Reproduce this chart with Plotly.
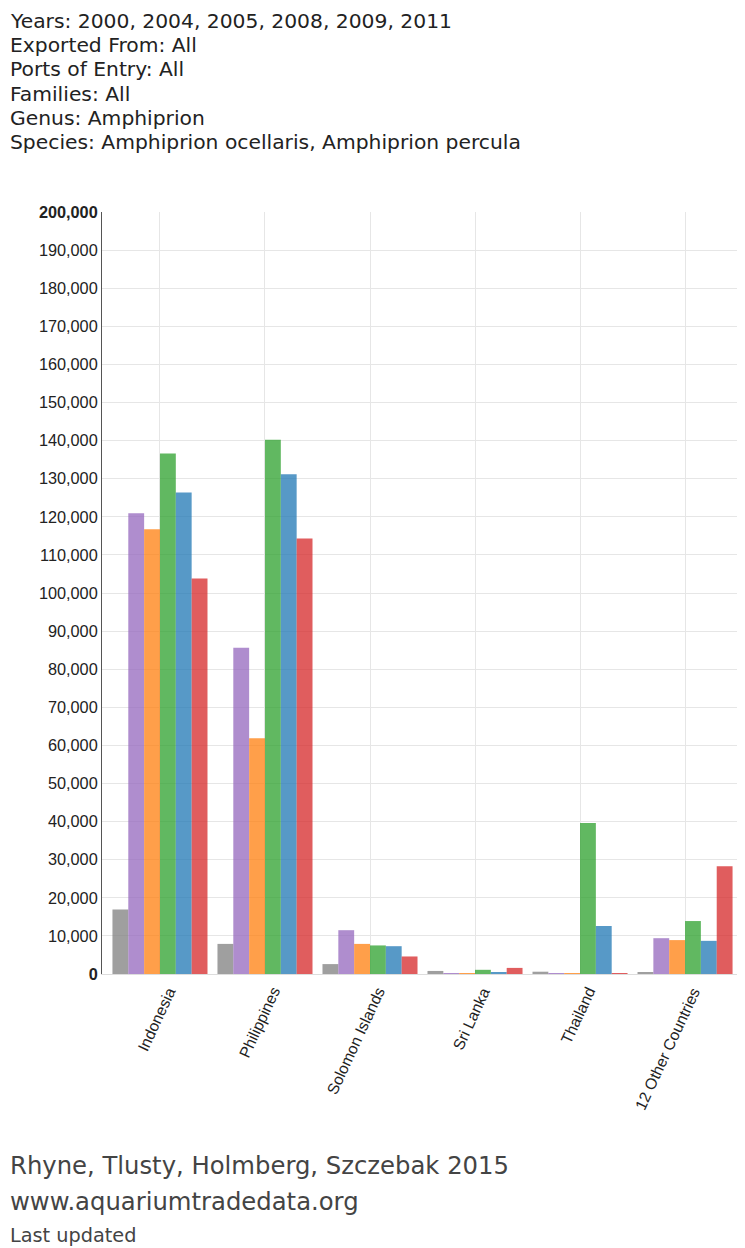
import plotly.graph_objects as go

countries = ["Indonesia", "Philippines", "Solomon Islands", "Sri Lanka", "Thailand", "12 Other Countries"]
years = ["2000", "2004", "2005", "2008", "2009", "2011"]
values = {
    "2000": [16900, 7900, 2600, 800, 600, 400],
    "2004": [120900, 85600, 11500, 200, 200, 9400],
    "2005": [116700, 61900, 7900, 200, 200, 8900],
    "2008": [136600, 140200, 7500, 1100, 39600, 13900],
    "2009": [126400, 131200, 7300, 500, 12600, 8700],
    "2011": [103800, 114300, 4600, 1600, 200, 28300],
}
colors = ["#7f7f7f", "#9467bd", "#ff7f0e", "#2ca02c", "#1f77b4", "#d62728"]
ytick_vals = list(range(0, 200001, 10000))
ytick_text = ["<b>0</b>"] + [f"{v:,}" for v in ytick_vals[1:-1]] + ["<b>200,000</b>"]

header_lines = [
    "Years: 2000, 2004, 2005, 2008, 2009, 2011",
    "Exported From: All",
    "Ports of Entry: All",
    "Families: All",
    "Genus: Amphiprion",
    "Species: Amphiprion ocellaris, Amphiprion percula",
]
footer_lines = [
    ("Rhyne, Tlusty, Holmberg, Szczebak 2015", 24.3, 1165),
    ("www.aquariumtradedata.org", 24.3, 1201),
    ("Last updated", 19.3, 1235),
]

# the page body adds an 8px offset; all page coordinates below are compensated
OFF = 8
PAGE_W, PAGE_H = 745, 1248
W, H = PAGE_W - OFF, PAGE_H - OFF
L, T, B = 102 - OFF, 212 - OFF, 974 - OFF

fig = go.Figure()
for yr, col in zip(years, colors):
    fig.add_trace(go.Bar(
        x=countries, y=values[yr], name=yr,
        marker=dict(color=col, opacity=0.75, line=dict(width=0)),
    ))

def py(ypage):
    return (B - (ypage - OFF)) / (B - T)

def px(xpage):
    return ((xpage - OFF) - L) / (W - L)

annotations = []
header_top, header_bottom = 21, 142
step = (header_bottom - header_top) / (len(header_lines) - 1)
for i, line in enumerate(header_lines):
    annotations.append(dict(
        text=line, x=px(8), y=py(header_top + i * step), xref="paper", yref="paper",
        xanchor="left", yanchor="middle", showarrow=False,
        font=dict(family="DejaVu Sans", size=20.3, color="#222222"),
    ))
for text, size, ypos in footer_lines:
    annotations.append(dict(
        text=text, x=px(8), y=py(ypos), xref="paper", yref="paper",
        xanchor="left", yanchor="middle", showarrow=False,
        font=dict(family="DejaVu Sans", size=size, color="#444444"),
    ))
# rotated category labels
for c in countries:
    annotations.append(dict(
        text=c, x=c, xref="x", y=0, yref="paper",
        xanchor="right", yanchor="top", xshift=21, yshift=-8,
        textangle=-65, showarrow=False,
        font=dict(family="Liberation Sans", size=15.7, color="#222222"),
    ))

fig.update_layout(
    width=W, height=H,
    margin=dict(l=L, r=0, t=T, b=H - B, pad=0),
    paper_bgcolor="white", plot_bgcolor="white",
    barmode="group", bargap=0.095, bargroupgap=0,
    showlegend=False,
    annotations=annotations,
    font=dict(family="Liberation Sans", color="#222222"),
)
fig.update_xaxes(
    range=[-0.552, 5.571], showgrid=True, gridcolor="#e6e6e6", gridwidth=1,
    showticklabels=False,
    showline=True, linecolor="#dddddd", linewidth=1, ticks="",
)
fig.update_yaxes(
    range=[0, 200000], tickvals=ytick_vals, ticktext=ytick_text,
    showgrid=True, gridcolor="#e6e6e6", gridwidth=1, zeroline=False,
    showline=True, linecolor="#555555", linewidth=1, ticks="",
    tickfont=dict(family="Liberation Sans", size=16.3, color="#222222"),
)

fig.write_html("out.html")
